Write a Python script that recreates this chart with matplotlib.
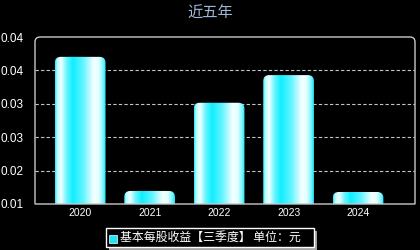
import numpy as np
import matplotlib
matplotlib.use("Agg")
import matplotlib.pyplot as plt
from matplotlib.patches import PathPatch
from matplotlib.path import Path
from matplotlib.colors import LinearSegmentedColormap

years = ["2020", "2021", "2022", "2023", "2024"]
eps = [0.0407, 0.0150, 0.0319, 0.0372, 0.0148]
y_ticks = [0.0125, 0.0189, 0.0253, 0.0317, 0.0381, 0.0445]
y_tick_labels = ["0.01", "0.02", "0.03", "0.03", "0.04", "0.04"]
title = "近五年"
legend_label = "基本每股收益【三季度】 单位：元"

plt.rcParams["font.family"] = ["Liberation Sans", "Noto Sans CJK SC", "DejaVu Sans"]

W, H = 420, 250
fig = plt.figure(figsize=(W / 100, H / 100), dpi=100, facecolor="black")

# plot area in pixels
ax_l, ax_r, ax_t, ax_b = 35, 415, 37, 204
ax = fig.add_axes([ax_l / W, 1 - ax_b / H, (ax_r - ax_l) / W, (ax_b - ax_t) / H])
ax.set_facecolor("black")

x = np.arange(len(years))
bar_w = 0.73
xlim = (-0.65, len(years) - 1 + 0.82)
ylim = (y_ticks[0], y_ticks[-1])

# horizontal gradient for the bars
stops = [0.0, 0.04, 0.12, 0.22, 0.35, 0.55, 0.76, 0.86, 0.95, 1.0]
cols = ["#20e8f8", "#b0fcff", "#f4ffff", "#70f6ff", "#10eeff",
        "#60f4ff", "#f4ffff", "#e4ffff", "#70f4ff", "#18e4f4"]
cmap = LinearSegmentedColormap.from_list("bar", list(zip(stops, cols)))
grad = np.linspace(0, 1, 256).reshape(1, -1)

px_x = (ax_r - ax_l) / (xlim[1] - xlim[0])
px_y = (ax_b - ax_t) / (ylim[1] - ylim[0])
rx = 6 / px_x
ry = 6 / px_y


def rounded_top(x0, x1, y0, y1, rx, ry):
    verts = [(x0, y0), (x0, y1 - ry), (x0, y1), (x0 + rx, y1), (x1 - rx, y1),
             (x1, y1), (x1, y1 - ry), (x1, y0), (x0, y0)]
    codes = [Path.MOVETO, Path.LINETO, Path.CURVE3, Path.CURVE3, Path.LINETO,
             Path.CURVE3, Path.CURVE3, Path.LINETO, Path.CLOSEPOLY]
    return Path(verts, codes)


for xi, v in zip(x, eps):
    x0 = xi - bar_w / 2
    clip = PathPatch(rounded_top(x0, x0 + bar_w, ylim[0], v, rx, ry),
                     facecolor="none", edgecolor="none", transform=ax.transData)
    ax.add_patch(clip)
    im = ax.imshow(grad, cmap=cmap, aspect="auto", interpolation="bilinear",
                   extent=[x0, x0 + bar_w, ylim[0], v], zorder=2)
    im.set_clip_path(clip)

ax.set_xlim(*xlim)
ax.set_ylim(*ylim)

for yt in y_ticks[1:-1]:
    ax.axhline(yt, color="#b8c8d8", lw=0.8, ls=(0, (3, 2)), zorder=1)

ax.set_xticks(x)
ax.set_xticklabels(years, color="white", fontsize=7.5)
ax.set_yticks(y_ticks)
ax.set_yticklabels(y_tick_labels, color="white", fontsize=8.5)
ax.tick_params(length=0, pad=3)
ax.tick_params(axis="y", pad=8)
for s in ax.spines.values():
    s.set_visible(False)

# frame with rounded top corners
frame = PathPatch(rounded_top(0, 1, 0, 1, 5 / (ax_r - ax_l), 5 / (ax_b - ax_t)),
                  transform=ax.transAxes, facecolor="none",
                  edgecolor="#c8c8c8", lw=1.0, clip_on=False, zorder=3)
ax.add_patch(frame)

fig.text(0.5, 1 - 13 / H, title, ha="center", va="center", color="#a0b8d8",
         fontsize=11, family=["Noto Sans CJK SC", "DejaVu Sans"])

# legend box with shadow
lx0, ly0, lx1, ly1 = 106, 228, 314, 247
shadow = plt.Rectangle(((lx0 + 3) / W, 1 - (ly1 + 3) / H), (lx1 - lx0) / W, (ly1 - ly0) / H,
                       transform=fig.transFigure, facecolor="#a0a0a0", edgecolor="none")
box = plt.Rectangle((lx0 / W, 1 - ly1 / H), (lx1 - lx0) / W, (ly1 - ly0) / H,
                    transform=fig.transFigure, facecolor="black", edgecolor="white", lw=1)
fig.patches.extend([shadow, box])
fig.patches.append(plt.Rectangle((109 / W, 1 - 243 / H), 8 / W, 8 / H, transform=fig.transFigure,
                                 facecolor="#18e8f8", edgecolor="white", lw=0.5))
fig.text(120 / W, 1 - 237.5 / H, legend_label, ha="left", va="center", color="white",
         fontsize=8.6, family=["Noto Sans CJK SC", "DejaVu Sans"])

fig.savefig("out.png", dpi=100, facecolor="black")
